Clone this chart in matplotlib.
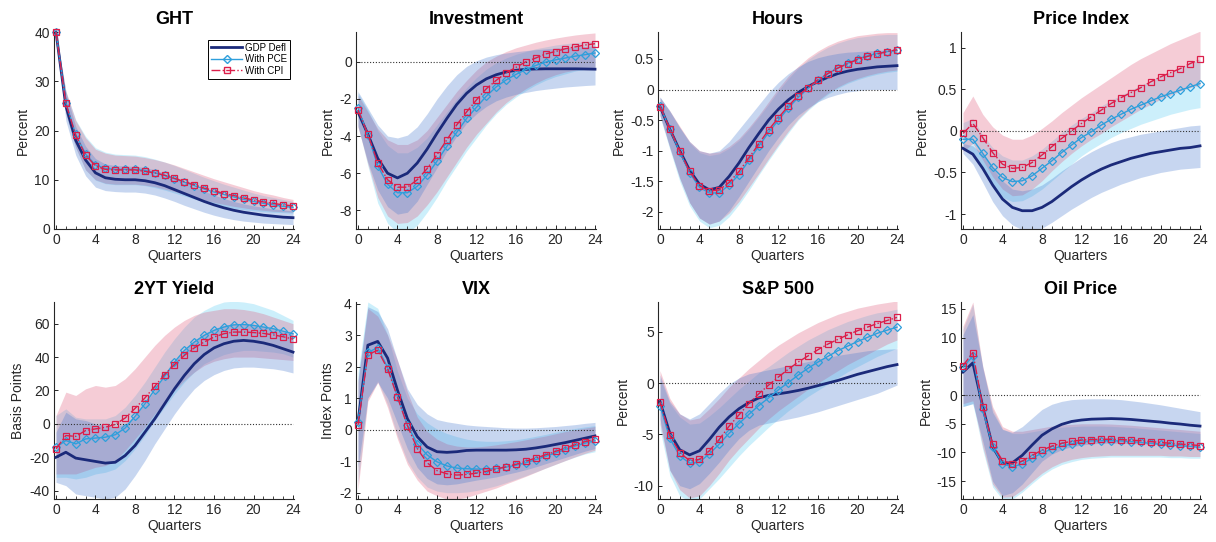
import matplotlib
matplotlib.use("Agg")
import matplotlib.pyplot as plt
from matplotlib.ticker import FixedLocator, MultipleLocator, FuncFormatter
from matplotlib.lines import Line2D

plt.rcParams['font.family'] = ['Liberation Sans', 'DejaVu Sans']
plt.rcParams['axes.unicode_minus'] = False

quarters = list(range(25))
xticks = [0, 4, 8, 12, 16, 20, 24]
titles = ["GHT", "Investment", "Hours", "Price Index", "2YT Yield", "VIX", "S&P 500", "Oil Price"]
ylabels = ["Percent", "Percent", "Percent", "Percent", "Basis Points", "Index Points", "Percent", "Percent"]
legend_labels = ["GDP Defl", "With PCE", "With CPI"]

# ---------------- GHT ----------------
ght_gdp = [40, 25.0, 18.0, 14.0, 11.4, 10.4, 10.1, 10.0, 10.0, 9.8, 9.4, 8.8, 8.0, 7.2, 6.4, 5.6, 4.9, 4.3, 3.8, 3.4, 3.1, 2.8, 2.6, 2.4, 2.3]
ght_gdp_lo = [40, 22.0, 15.0, 10.8, 8.5, 7.8, 7.6, 7.5, 7.5, 7.3, 6.9, 6.3, 5.6, 4.8, 4.1, 3.4, 2.8, 2.3, 1.9, 1.6, 1.4, 1.2, 1.1, 1.0, 0.9]
ght_gdp_hi = [40, 27.8, 20.8, 16.8, 14.3, 13.2, 12.9, 12.8, 12.7, 12.5, 12.0, 11.3, 10.4, 9.5, 8.6, 7.7, 6.9, 6.2, 5.6, 5.1, 4.7, 4.4, 4.1, 3.9, 3.7]
ght_pce = [40, 25.6, 19.2, 15.2, 13.0, 12.3, 12.1, 12.1, 12.1, 11.9, 11.4, 10.9, 10.2, 9.5, 8.8, 8.1, 7.5, 7.0, 6.5, 6.0, 5.6, 5.2, 4.9, 4.6, 4.4]
ght_pce_lo = [40, 23.3, 16.5, 12.0, 9.9, 9.2, 9.0, 9.0, 9.0, 8.8, 8.4, 7.9, 7.3, 6.7, 6.1, 5.5, 5.0, 4.6, 4.2, 3.9, 3.7, 3.5, 3.4, 3.3, 3.2]
ght_pce_hi = [40, 28.0, 22.2, 18.8, 16.5, 15.6, 15.2, 15.1, 15.0, 14.7, 14.2, 13.6, 12.9, 12.1, 11.3, 10.5, 9.8, 9.1, 8.5, 7.9, 7.3, 6.8, 6.4, 6.0, 5.6]
ght_cpi = [40, 25.5, 19.0, 15.0, 12.8, 12.1, 12.0, 12.0, 12.0, 11.7, 11.4, 10.9, 10.3, 9.6, 9.0, 8.3, 7.8, 7.2, 6.8, 6.3, 5.9, 5.5, 5.2, 4.9, 4.7]
ght_cpi_lo = [40, 23.5, 16.5, 12.0, 10.0, 9.3, 9.1, 9.1, 9.1, 8.9, 8.6, 8.1, 7.6, 7.0, 6.5, 5.9, 5.4, 5.0, 4.6, 4.3, 4.0, 3.8, 3.6, 3.5, 3.4]
ght_cpi_hi = [40, 28.0, 22.0, 18.5, 16.2, 15.4, 15.0, 14.9, 14.8, 14.5, 14.1, 13.6, 13.0, 12.3, 11.6, 10.9, 10.2, 9.6, 9.0, 8.4, 7.8, 7.3, 6.9, 6.4, 6.0]

# ---------------- Investment ----------------
inv_gdp = [-2.7, -3.9, -5.2, -6.0, -6.25, -6.0, -5.45, -4.7, -3.85, -3.05, -2.3, -1.7, -1.25, -0.92, -0.7, -0.55, -0.46, -0.41, -0.39, -0.38, -0.38, -0.38, -0.38, -0.39, -0.4]
inv_gdp_lo = [-3.5, -5.4, -6.9, -7.8, -8.2, -8.1, -7.5, -6.6, -5.7, -4.8, -4.0, -3.3, -2.8, -2.4, -2.1, -1.9, -1.75, -1.65, -1.55, -1.48, -1.42, -1.36, -1.32, -1.28, -1.25]
inv_gdp_hi = [-1.6, -2.5, -3.4, -4.0, -4.1, -3.95, -3.5, -2.8, -2.0, -1.3, -0.7, -0.25, 0.05, 0.25, 0.38, 0.47, 0.54, 0.6, 0.65, 0.69, 0.73, 0.76, 0.79, 0.82, 0.85]
inv_pce = [-2.5, -3.95, -5.6, -6.6, -7.05, -7.05, -6.7, -6.1, -5.35, -4.55, -3.8, -3.05, -2.45, -1.85, -1.35, -0.98, -0.68, -0.42, -0.2, -0.02, 0.1, 0.2, 0.3, 0.38, 0.47]
inv_pce_lo = [-3.4, -5.6, -7.6, -8.7, -9.2, -9.2, -8.8, -8.1, -7.3, -6.4, -5.6, -4.8, -4.1, -3.4, -2.8, -2.3, -1.9, -1.55, -1.25, -1.0, -0.8, -0.65, -0.5, -0.4, -0.3]
inv_pce_hi = [-1.7, -2.6, -3.7, -4.5, -4.9, -4.9, -4.6, -4.1, -3.4, -2.7, -2.0, -1.4, -0.85, -0.4, -0.05, 0.2, 0.4, 0.55, 0.7, 0.8, 0.9, 0.97, 1.03, 1.08, 1.12]
inv_cpi = [-2.6, -3.9, -5.45, -6.35, -6.75, -6.75, -6.35, -5.75, -5.0, -4.2, -3.4, -2.7, -2.05, -1.45, -1.0, -0.6, -0.3, 0.0, 0.2, 0.42, 0.55, 0.7, 0.8, 0.9, 0.97]
inv_cpi_lo = [-3.5, -5.5, -7.3, -8.3, -8.7, -8.65, -8.3, -7.7, -7.0, -6.2, -5.4, -4.6, -3.9, -3.3, -2.7, -2.2, -1.8, -1.45, -1.15, -0.9, -0.7, -0.55, -0.45, -0.35, -0.3]
inv_cpi_hi = [-1.8, -2.7, -3.6, -4.2, -4.45, -4.45, -4.2, -3.7, -3.0, -2.3, -1.6, -1.0, -0.45, 0.0, 0.3, 0.55, 0.75, 0.9, 1.05, 1.17, 1.27, 1.36, 1.44, 1.5, 1.55]

# ---------------- Hours ----------------
hrs_gdp = [-0.28, -0.65, -1.0, -1.32, -1.55, -1.64, -1.6, -1.42, -1.2, -0.95, -0.72, -0.5, -0.32, -0.17, -0.05, 0.05, 0.13, 0.2, 0.26, 0.3, 0.33, 0.35, 0.37, 0.38, 0.39]
hrs_gdp_lo = [-0.42, -0.95, -1.45, -1.85, -2.1, -2.2, -2.15, -1.98, -1.75, -1.5, -1.25, -1.0, -0.78, -0.58, -0.42, -0.3, -0.2, -0.13, -0.08, -0.04, -0.02, 0.0, 0.0, 0.0, 0.0]
hrs_gdp_hi = [-0.12, -0.35, -0.62, -0.85, -1.0, -1.04, -1.0, -0.85, -0.65, -0.45, -0.25, -0.05, 0.12, 0.26, 0.37, 0.46, 0.52, 0.56, 0.59, 0.61, 0.62, 0.63, 0.64, 0.65, 0.65]
hrs_pce = [-0.27, -0.65, -1.02, -1.36, -1.6, -1.69, -1.69, -1.56, -1.39, -1.16, -0.93, -0.7, -0.5, -0.3, -0.13, 0.02, 0.15, 0.26, 0.35, 0.43, 0.5, 0.55, 0.59, 0.62, 0.64]
hrs_pce_lo = [-0.44, -0.98, -1.5, -1.9, -2.15, -2.26, -2.22, -2.08, -1.88, -1.65, -1.4, -1.16, -0.93, -0.71, -0.5, -0.34, -0.2, -0.08, 0.02, 0.1, 0.16, 0.21, 0.25, 0.28, 0.3]
hrs_pce_hi = [-0.13, -0.36, -0.62, -0.87, -1.03, -1.08, -1.05, -0.96, -0.83, -0.65, -0.45, -0.24, -0.02, 0.18, 0.35, 0.49, 0.6, 0.69, 0.76, 0.81, 0.85, 0.87, 0.89, 0.9, 0.9]
hrs_cpi = [-0.28, -0.64, -1.0, -1.34, -1.57, -1.66, -1.64, -1.52, -1.34, -1.12, -0.89, -0.66, -0.46, -0.27, -0.1, 0.03, 0.16, 0.26, 0.35, 0.42, 0.49, 0.54, 0.58, 0.62, 0.65]
hrs_cpi_lo = [-0.42, -0.95, -1.45, -1.85, -2.1, -2.2, -2.15, -2.02, -1.83, -1.6, -1.37, -1.13, -0.9, -0.68, -0.48, -0.32, -0.18, -0.06, 0.04, 0.12, 0.18, 0.23, 0.27, 0.3, 0.32]
hrs_cpi_hi = [-0.13, -0.35, -0.6, -0.85, -1.0, -1.04, -1.02, -0.93, -0.8, -0.62, -0.42, -0.2, 0.02, 0.22, 0.38, 0.52, 0.63, 0.72, 0.79, 0.84, 0.88, 0.9, 0.92, 0.93, 0.93]

# ---------------- Price Index ----------------
prc_gdp = [-0.21, -0.28, -0.45, -0.65, -0.82, -0.92, -0.96, -0.96, -0.92, -0.85, -0.76, -0.67, -0.59, -0.52, -0.46, -0.41, -0.37, -0.33, -0.3, -0.27, -0.25, -0.23, -0.21, -0.2, -0.18]
prc_gdp_lo = [-0.27, -0.4, -0.62, -0.85, -1.02, -1.13, -1.19, -1.2, -1.17, -1.1, -1.02, -0.94, -0.87, -0.8, -0.74, -0.69, -0.64, -0.6, -0.56, -0.53, -0.5, -0.48, -0.46, -0.45, -0.44]
prc_gdp_hi = [-0.15, -0.18, -0.28, -0.45, -0.6, -0.7, -0.72, -0.7, -0.65, -0.57, -0.48, -0.4, -0.32, -0.25, -0.19, -0.14, -0.1, -0.07, -0.04, -0.02, 0.0, 0.02, 0.04, 0.06, 0.07]
prc_pce = [-0.1, -0.1, -0.27, -0.44, -0.56, -0.61, -0.6, -0.54, -0.45, -0.36, -0.26, -0.17, -0.08, -0.01, 0.07, 0.14, 0.2, 0.26, 0.31, 0.36, 0.41, 0.45, 0.49, 0.53, 0.57]
prc_pce_lo = [-0.2, -0.3, -0.45, -0.65, -0.8, -0.85, -0.84, -0.78, -0.7, -0.6, -0.5, -0.4, -0.3, -0.22, -0.15, -0.08, -0.02, 0.03, 0.08, 0.12, 0.16, 0.2, 0.23, 0.26, 0.28]
prc_pce_hi = [0.1, 0.15, -0.05, -0.2, -0.3, -0.35, -0.35, -0.3, -0.22, -0.12, -0.02, 0.07, 0.15, 0.22, 0.3, 0.37, 0.43, 0.49, 0.55, 0.6, 0.66, 0.71, 0.76, 0.81, 0.86]
prc_cpi = [-0.03, 0.09, -0.08, -0.26, -0.4, -0.45, -0.44, -0.38, -0.29, -0.19, -0.09, 0.0, 0.09, 0.17, 0.25, 0.33, 0.4, 0.46, 0.52, 0.59, 0.65, 0.7, 0.75, 0.81, 0.86]
prc_cpi_lo = [-0.25, -0.15, -0.35, -0.55, -0.7, -0.78, -0.77, -0.7, -0.6, -0.48, -0.37, -0.27, -0.18, -0.1, -0.03, 0.05, 0.12, 0.19, 0.26, 0.32, 0.38, 0.43, 0.48, 0.52, 0.55]
prc_cpi_hi = [0.22, 0.42, 0.2, 0.05, -0.05, -0.1, -0.1, -0.05, 0.03, 0.12, 0.22, 0.31, 0.4, 0.48, 0.56, 0.64, 0.72, 0.8, 0.87, 0.93, 0.99, 1.05, 1.1, 1.15, 1.2]

# ---------------- 2YT Yield ----------------
yld_gdp = [-20, -17, -20.5, -21.5, -22.5, -23.5, -23, -19, -13, -5, 3, 12, 21, 29, 36, 41.5, 45.5, 48, 49.5, 50, 49.5, 48.5, 47, 45, 43]
yld_gdp_lo = [-35, -37, -42, -43, -44, -45, -44, -39, -31, -22, -12, -3, 6, 14, 21, 26, 29.5, 32, 33.5, 34, 34, 33.5, 33, 32, 30.5]
yld_gdp_hi = [-5, 7, 3, 2, 0, -1, -2, 0, 5, 12, 20, 29, 37, 44, 50, 54, 57, 59, 60, 60, 59.5, 58.5, 57, 55.5, 54]
yld_pce = [-14, -10, -12, -9, -8.5, -8, -6.5, -2.5, 4.5, 12, 20.5, 28.5, 37, 44, 49, 53, 56, 58, 59.3, 59.5, 59, 58, 57, 55.5, 54]
yld_pce_lo = [-32, -32, -33, -32, -30, -29, -27, -22, -15, -7, 2, 10, 18, 25, 31, 36, 39, 41.5, 43, 44, 44, 43.5, 43, 42, 40]
yld_pce_hi = [5, 9, 4, 3, 3, 3, 5, 10, 17, 25, 34, 43, 51, 58, 64, 68, 71, 73, 73.5, 73, 72, 70, 68, 65, 62]
yld_cpi = [-15, -7, -7.5, -4, -3, -2, -0.3, 3.5, 9.2, 15.5, 22.5, 29.5, 35.5, 41, 45.5, 49, 52, 54, 55, 55, 54.7, 54.2, 53.3, 52.2, 50.8]
yld_cpi_lo = [-30, -30, -30, -28, -26, -25, -22, -16, -9, -2, 6, 13, 20, 26, 31, 35, 37.5, 39, 40, 40, 40, 39.5, 39, 38.5, 38]
yld_cpi_hi = [5, 19, 17, 21, 23, 22, 23, 27, 33, 40, 47, 53, 58, 62, 65, 67, 68, 69, 69, 68.5, 67.5, 66, 64, 62, 60]

# ---------------- VIX ----------------
vix_gdp = [0.25, 2.68, 2.8, 2.27, 1.25, 0.35, -0.22, -0.55, -0.7, -0.72, -0.7, -0.66, -0.65, -0.65, -0.65, -0.65, -0.64, -0.62, -0.58, -0.53, -0.47, -0.41, -0.34, -0.27, -0.2]
vix_gdp_lo = [-1.2, 1.0, 1.5, 1.0, 0.2, -0.6, -1.2, -1.55, -1.72, -1.75, -1.72, -1.66, -1.6, -1.55, -1.5, -1.42, -1.35, -1.27, -1.18, -1.08, -0.98, -0.88, -0.78, -0.68, -0.6]
vix_gdp_hi = [1.6, 3.9, 3.75, 3.2, 2.2, 1.3, 0.8, 0.5, 0.32, 0.25, 0.2, 0.15, 0.12, 0.1, 0.08, 0.06, 0.05, 0.05, 0.06, 0.08, 0.1, 0.13, 0.16, 0.2, 0.23]
vix_pce = [0.25, 2.45, 2.6, 1.97, 1.05, 0.15, -0.45, -0.8, -1.02, -1.15, -1.22, -1.24, -1.25, -1.25, -1.23, -1.19, -1.13, -1.05, -0.95, -0.85, -0.74, -0.63, -0.52, -0.43, -0.35]
vix_pce_lo = [-1.7, 1.0, 1.55, 0.8, -0.2, -1.0, -1.5, -1.82, -1.95, -2.0, -2.0, -1.98, -1.93, -1.86, -1.78, -1.68, -1.57, -1.46, -1.34, -1.22, -1.1, -0.98, -0.87, -0.77, -0.7]
vix_pce_hi = [1.8, 4.05, 3.85, 3.0, 1.85, 1.0, 0.5, 0.22, 0.02, -0.12, -0.22, -0.3, -0.35, -0.37, -0.37, -0.35, -0.32, -0.27, -0.21, -0.15, -0.08, -0.02, 0.04, 0.09, 0.13]
vix_cpi = [0.15, 2.38, 2.52, 1.93, 1.03, 0.13, -0.6, -1.05, -1.3, -1.4, -1.44, -1.42, -1.38, -1.32, -1.25, -1.18, -1.1, -1.0, -0.9, -0.8, -0.69, -0.58, -0.48, -0.38, -0.3]
vix_cpi_lo = [-1.9, 0.9, 1.5, 0.7, -0.3, -1.1, -1.6, -1.95, -2.1, -2.2, -2.2, -2.15, -2.05, -1.95, -1.85, -1.72, -1.6, -1.48, -1.35, -1.22, -1.1, -0.98, -0.86, -0.75, -0.65]
vix_cpi_hi = [1.5, 3.85, 3.6, 3.0, 2.2, 1.2, 0.4, -0.05, -0.3, -0.45, -0.52, -0.55, -0.55, -0.52, -0.48, -0.43, -0.38, -0.32, -0.26, -0.2, -0.13, -0.06, 0.0, 0.05, 0.1]

# ---------------- S&P 500 ----------------
spx_gdp = [-1.8, -4.9, -6.5, -7.0, -6.6, -5.5, -4.3, -3.3, -2.5, -1.9, -1.45, -1.2, -1.05, -0.9, -0.72, -0.5, -0.25, 0.0, 0.25, 0.55, 0.85, 1.1, 1.35, 1.6, 1.8]
spx_gdp_lo = [-3.5, -8.5, -10.0, -10.3, -9.8, -8.8, -7.7, -6.5, -5.4, -4.6, -4.1, -3.9, -3.7, -3.5, -3.3, -3.05, -2.8, -2.5, -2.2, -1.9, -1.6, -1.3, -1.0, -0.6, -0.2]
spx_gdp_hi = [0.8, -1.8, -3.0, -3.5, -3.0, -2.0, -1.0, -0.1, 0.5, 0.9, 1.1, 1.3, 1.5, 1.7, 1.9, 2.1, 2.3, 2.5, 2.7, 2.85, 3.0, 3.15, 3.25, 3.3, 3.35]
spx_pce = [-2.2, -5.4, -7.1, -7.8, -7.7, -6.9, -5.95, -4.9, -3.95, -3.05, -2.2, -1.45, -0.65, 0.05, 0.78, 1.45, 2.05, 2.6, 3.15, 3.6, 4.05, 4.45, 4.85, 5.15, 5.45]
spx_pce_lo = [-4.5, -9.0, -11.0, -11.5, -11.3, -10.3, -9.3, -8.2, -7.1, -6.1, -5.2, -4.3, -3.5, -2.7, -2.0, -1.3, -0.7, -0.1, 0.5, 1.1, 1.6, 2.1, 2.6, 3.0, 3.4]
spx_pce_hi = [0.5, -2.0, -3.3, -4.0, -3.9, -3.2, -2.4, -1.5, -0.6, 0.2, 1.0, 1.6, 2.3, 3.0, 3.6, 4.2, 4.7, 5.2, 5.6, 6.0, 6.3, 6.6, 6.85, 7.0, 7.2]
spx_cpi = [-1.8, -5.1, -6.8, -7.55, -7.45, -6.6, -5.5, -4.2, -3.1, -2.0, -1.05, -0.2, 0.6, 1.35, 2.05, 2.65, 3.25, 3.8, 4.25, 4.7, 5.1, 5.45, 5.8, 6.1, 6.4]
spx_cpi_lo = [-4.0, -8.5, -10.4, -11.2, -11.0, -10.0, -8.8, -7.5, -6.4, -5.4, -4.4, -3.5, -2.7, -2.0, -1.3, -0.6, 0.0, 0.6, 1.2, 1.8, 2.3, 2.8, 3.3, 3.8, 4.2]
spx_cpi_hi = [1.2, -1.5, -3.0, -3.6, -3.4, -2.5, -1.5, -0.4, 0.5, 1.4, 2.2, 3.0, 3.7, 4.3, 4.9, 5.4, 5.9, 6.3, 6.7, 7.0, 7.3, 7.5, 7.7, 7.85, 8.0]

# ---------------- Oil Price ----------------
oil_gdp = [4.0, 5.6, -2.0, -9.0, -11.9, -11.8, -10.5, -8.7, -7.0, -5.9, -5.1, -4.6, -4.35, -4.2, -4.15, -4.1, -4.15, -4.25, -4.4, -4.55, -4.7, -4.9, -5.05, -5.25, -5.4]
oil_gdp_lo = [-2.0, -1.5, -8.0, -15.0, -17.5, -17.0, -15.5, -13.5, -11.5, -10.3, -9.5, -9.0, -8.7, -8.5, -8.4, -8.4, -8.4, -8.45, -8.5, -8.55, -8.6, -8.7, -8.8, -8.9, -9.0]
oil_gdp_hi = [10.5, 14.0, 5.0, -3.0, -6.0, -6.5, -5.5, -4.0, -2.5, -1.6, -1.1, -0.8, -0.7, -0.65, -0.65, -0.7, -0.8, -1.0, -1.2, -1.45, -1.7, -2.0, -2.3, -2.6, -2.9]
oil_pce = [4.8, 6.8, -2.5, -9.0, -12.0, -12.5, -12.0, -11.0, -10.1, -9.4, -8.9, -8.5, -8.2, -8.0, -7.95, -7.95, -8.0, -8.1, -8.25, -8.4, -8.55, -8.7, -8.85, -8.95, -9.1]
oil_pce_lo = [-2.0, -1.5, -9.5, -16.0, -18.2, -18.1, -16.9, -15.4, -14.0, -12.9, -12.1, -11.6, -11.2, -11.0, -10.9, -10.8, -10.8, -10.8, -10.8, -10.8, -10.8, -10.9, -10.9, -11.0, -11.0]
oil_pce_hi = [11.5, 15.8, 4.6, -2.4, -5.9, -6.7, -6.7, -6.4, -6.1, -5.8, -5.6, -5.5, -5.4, -5.4, -5.4, -5.45, -5.55, -5.65, -5.8, -5.95, -6.1, -6.25, -6.4, -6.55, -6.7]
oil_cpi = [5.1, 7.4, -2.0, -8.6, -11.4, -12.0, -11.5, -10.5, -9.6, -8.9, -8.4, -8.05, -7.85, -7.75, -7.7, -7.7, -7.75, -7.85, -7.95, -8.1, -8.25, -8.4, -8.55, -8.65, -8.8]
oil_cpi_lo = [-1.5, -1.0, -9.0, -15.5, -17.8, -17.7, -16.5, -15.0, -13.6, -12.5, -11.7, -11.2, -10.9, -10.7, -10.6, -10.5, -10.5, -10.5, -10.5, -10.5, -10.5, -10.6, -10.6, -10.7, -10.7]
oil_cpi_hi = [12.0, 16.2, 5.0, -2.0, -5.5, -6.3, -6.3, -6.0, -5.7, -5.4, -5.2, -5.1, -5.0, -5.0, -5.0, -5.05, -5.15, -5.25, -5.4, -5.55, -5.7, -5.85, -6.0, -6.15, -6.3]

yticks = [
    [0, 10, 20, 30, 40],
    [-8, -6, -4, -2, 0],
    [-2, -1.5, -1, -0.5, 0, 0.5],
    [-1, -0.5, 0, 0.5, 1],
    [-40, -20, 0, 20, 40, 60],
    [-2, -1, 0, 1, 2, 3, 4],
    [-10, -5, 0, 5],
    [-15, -10, -5, 0, 5, 10, 15],
]
ylims = [(0, 40), (-9.0, 1.6), (-2.28, 0.94), (-1.18, 1.19), (-45, 73), (-2.2, 4.05), (-11.3, 7.9), (-18.1, 16.2)]

panels = [
    (ght_gdp, ght_gdp_lo, ght_gdp_hi, ght_pce, ght_pce_lo, ght_pce_hi, ght_cpi, ght_cpi_lo, ght_cpi_hi),
    (inv_gdp, inv_gdp_lo, inv_gdp_hi, inv_pce, inv_pce_lo, inv_pce_hi, inv_cpi, inv_cpi_lo, inv_cpi_hi),
    (hrs_gdp, hrs_gdp_lo, hrs_gdp_hi, hrs_pce, hrs_pce_lo, hrs_pce_hi, hrs_cpi, hrs_cpi_lo, hrs_cpi_hi),
    (prc_gdp, prc_gdp_lo, prc_gdp_hi, prc_pce, prc_pce_lo, prc_pce_hi, prc_cpi, prc_cpi_lo, prc_cpi_hi),
    (yld_gdp, yld_gdp_lo, yld_gdp_hi, yld_pce, yld_pce_lo, yld_pce_hi, yld_cpi, yld_cpi_lo, yld_cpi_hi),
    (vix_gdp, vix_gdp_lo, vix_gdp_hi, vix_pce, vix_pce_lo, vix_pce_hi, vix_cpi, vix_cpi_lo, vix_cpi_hi),
    (spx_gdp, spx_gdp_lo, spx_gdp_hi, spx_pce, spx_pce_lo, spx_pce_hi, spx_cpi, spx_cpi_lo, spx_cpi_hi),
    (oil_gdp, oil_gdp_lo, oil_gdp_hi, oil_pce, oil_pce_lo, oil_pce_hi, oil_cpi, oil_cpi_lo, oil_cpi_hi),
]

C_GDP = '#1b2a7a'
C_PCE = '#2e9fdc'
C_CPI = '#dc1e4a'
B_GDP = (0.28, 0.48, 0.81)
B_PCE = (0.35, 0.80, 0.95)
B_CPI = (0.87, 0.35, 0.48)
ALPHA = 0.3

W, H = 1216, 542
fig = plt.figure(figsize=(W / 100, H / 100), dpi=100)

col_left = [54, 356, 658, 961]
row_top = [32, 302]
ax_w, ax_h = 240, 197

fmt = FuncFormatter(lambda v, p: ('%g' % v) if abs(v) > 1e-12 else '0')

for i, (title, ylab) in enumerate(zip(titles, ylabels)):
    r, c = divmod(i, 4)
    left = col_left[c] / W
    bottom = (H - row_top[r] - ax_h) / H
    ax = fig.add_axes([left, bottom, ax_w / W, ax_h / H])
    gdp, gdp_lo, gdp_hi, pce, pce_lo, pce_hi, cpi, cpi_lo, cpi_hi = panels[i]

    # band drawing order: PCE, CPI, then GDP on top
    ax.fill_between(quarters, pce_lo, pce_hi, color=B_PCE, alpha=ALPHA, lw=0)
    ax.fill_between(quarters, cpi_lo, cpi_hi, color=B_CPI, alpha=ALPHA, lw=0)
    ax.fill_between(quarters, gdp_lo, gdp_hi, color=B_GDP, alpha=ALPHA, lw=0)

    if i != 0:
        ax.hlines(0, quarters[0], quarters[-1], colors='#333333', linestyles=(0, (1, 1.6)), lw=0.8, zorder=2)

    ax.plot(quarters, gdp, color=C_GDP, lw=2.0, zorder=4, clip_on=False)
    ax.plot(quarters, pce, color=C_PCE, lw=1.0, marker='D', markersize=4,
            markerfacecolor='none', markeredgecolor=C_PCE, markeredgewidth=0.9, zorder=5, clip_on=False)
    ax.plot(quarters, cpi, color=C_CPI, lw=1.0, ls='-.', marker='s', markersize=3.8,
            markerfacecolor='none', markeredgecolor=C_CPI, markeredgewidth=0.9, zorder=6, clip_on=False)

    ax.set_xlim(-0.2, 24.1)
    ax.set_ylim(*ylims[i])
    ax.xaxis.set_major_locator(FixedLocator(xticks))
    ax.xaxis.set_minor_locator(MultipleLocator(1))
    ax.yaxis.set_major_locator(FixedLocator(yticks[i]))
    ax.yaxis.set_major_formatter(fmt)
    ax.xaxis.set_major_formatter(fmt)

    for s in ['top', 'right']:
        ax.spines[s].set_visible(False)
    for s in ['left', 'bottom']:
        ax.spines[s].set_color('#262626')
        ax.spines[s].set_linewidth(0.8)
    ax.tick_params(axis='both', which='major', direction='in', length=3, width=0.7,
                   labelsize=10, colors='#262626', pad=3)
    ax.tick_params(axis='x', which='minor', direction='in', length=2, width=0.6, colors='#262626')
    ax.set_title(title, fontsize=13, fontweight='bold', pad=6)
    ax.set_xlabel('Quarters', fontsize=10, labelpad=1, color='#262626')
    ax.set_ylabel(ylab, fontsize=10, labelpad=3, color='#262626')

    if i == 0:
        handles = [
            Line2D([], [], color=C_GDP, lw=2.0),
            Line2D([], [], color=C_PCE, lw=1.0, marker='D', markersize=4, markerfacecolor='none'),
            Line2D([], [], color=C_CPI, lw=1.0, ls='-.', marker='s', markersize=3.8, markerfacecolor='none'),
        ]
        leg = ax.legend(handles, legend_labels, loc='upper right', bbox_to_anchor=(0.985, 0.96),
                        fontsize=7, frameon=True, fancybox=False, edgecolor='k', framealpha=1,
                        handlelength=3.2, handletextpad=0.3, borderpad=0.3, labelspacing=0.15,
                        borderaxespad=0)
        leg.get_frame().set_linewidth(0.7)

fig.savefig('out.png', dpi=100)
